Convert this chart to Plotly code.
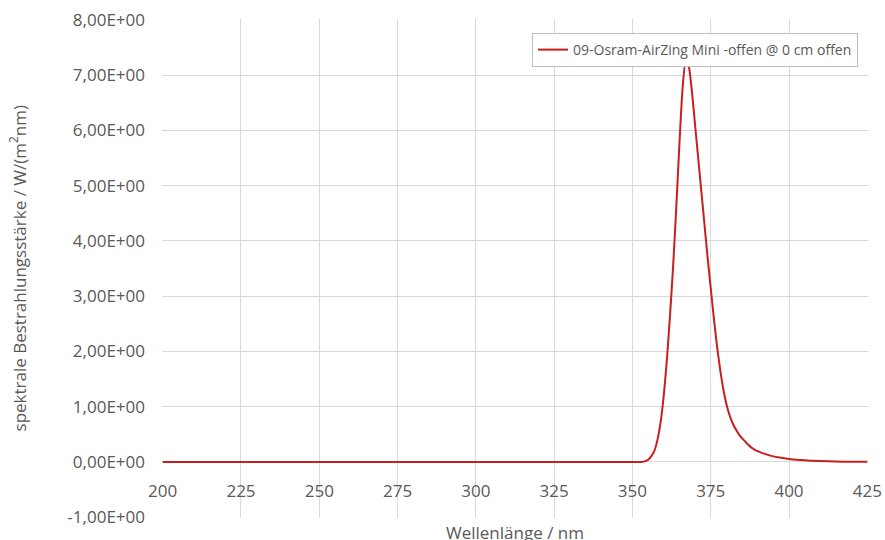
import plotly.graph_objects as go

# Spectral irradiance of the lamp (nm, W/(m^2 nm))
wavelength = [200, 250, 300, 340, 350, 352, 353, 354, 355, 356, 357, 358, 359, 360, 361, 362,
              363, 364, 365, 366, 367, 368, 369, 370, 371, 372, 373, 374, 375, 376, 377, 378,
              379, 380, 381, 382, 383, 384, 385, 386, 387, 388, 389, 390, 392, 394, 397, 400,
              405, 410, 415, 420, 425]
irradiance = [0, 0, 0, 0, 0, 0, 0, 0.01, 0.04, 0.1, 0.2, 0.4, 0.72, 1.2, 1.85, 2.65,
              3.55, 4.6, 5.75, 6.75, 7.25, 7.15, 6.7, 6.1, 5.5, 4.9, 4.3, 3.7, 3.15, 2.6, 2.1, 1.68,
              1.32, 1.05, 0.85, 0.7, 0.59, 0.5, 0.43, 0.37, 0.31, 0.26, 0.225, 0.195, 0.15, 0.115,
              0.08, 0.055, 0.03, 0.016, 0.008, 0.004, 0.002]

series_name = "09-Osram-AirZing Mini -offen @ 0 cm offen"

x_ticks = [200, 225, 250, 275, 300, 325, 350, 375, 400, 425]
y_ticks = [-1, 0, 1, 2, 3, 4, 5, 6, 7, 8]
y_tick_labels = ["-1,00E+00", "0,00E+00", "1,00E+00", "2,00E+00", "3,00E+00",
                 "4,00E+00", "5,00E+00", "6,00E+00", "7,00E+00", "8,00E+00"]

x_title = "Wellenlänge / nm"
y_title = "spektrale Bestrahlungsstärke / W/(m<sup>2</sup>nm)"

FONT = "Open Sans"
GRID = "#d9d9d9"
TEXT = "#595959"

fig = go.Figure()
fig.add_trace(go.Scatter(
    x=wavelength, y=irradiance, mode="lines", name=series_name,
    line=dict(color="#c81e1e", width=2, shape="spline", smoothing=0.6),
))

y_min, y_max = y_ticks[0], y_ticks[-1]
x_min, x_max = x_ticks[0], x_ticks[-1]
# tiny padding so the outermost grid lines frame the plot area
y_pad = (y_max - y_min) * 0.0015
x_pad = (x_max - x_min) * 0.0010

fig.update_layout(
    width=885, height=540,
    margin=dict(l=162, r=17, t=19, b=22, autoexpand=False),
    paper_bgcolor="white", plot_bgcolor="white",
    font=dict(family=FONT, size=17, color=TEXT),
    showlegend=True,
    legend=dict(
        x=(858 - 162) / 706, y=(518 - 33) / 499, xanchor="right", yanchor="top",
        bgcolor="white", bordercolor="#bfbfbf", borderwidth=1,
        font=dict(family=FONT, size=14, color=TEXT),
        itemwidth=30,
    ),
    xaxis=dict(
        range=[x_min - x_pad, x_max + x_pad], tickvals=x_ticks,
        showgrid=True, gridcolor=GRID, gridwidth=1,
        zeroline=False, showline=False, automargin=False,
        anchor="free", position=(0 - (y_min - y_pad)) / (y_max - y_min + 2 * y_pad),
        ticks="", ticklabelstandoff=17,
        tickfont=dict(family=FONT, size=17, color=TEXT),
    ),
    yaxis=dict(
        range=[y_min - y_pad, y_max + y_pad], tickvals=y_ticks, ticktext=y_tick_labels,
        showgrid=True, gridcolor=GRID, gridwidth=1,
        zeroline=False, showline=False, automargin=False,
        ticks="", ticklabelstandoff=16,
        tickfont=dict(family=FONT, size=17, color=TEXT),
    ),
    annotations=[
        dict(text=x_title, xref="paper", yref="paper", x=0.5, y=-0.03,
             xanchor="center", yanchor="middle", showarrow=False,
             font=dict(family=FONT, size=17, color=TEXT)),
        dict(text=y_title, xref="paper", yref="paper", x=-0.204, y=0.5,
             xanchor="center", yanchor="middle", textangle=-90, showarrow=False,
             font=dict(family=FONT, size=17, color=TEXT)),
    ],
)

fig.write_html("out.html")
